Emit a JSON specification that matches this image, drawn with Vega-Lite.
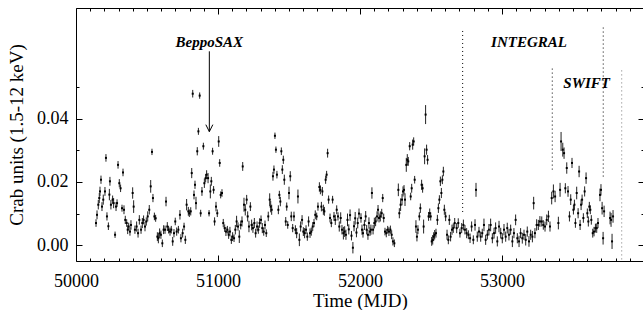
{
"$schema":"https://vega.github.io/schema/vega-lite/v6.json",
"width":568,"height":253,
"autosize":{"type":"none"},
"padding":{"left":76,"top":8,"right":0,"bottom":49},
"background":"white",
"config":{"view":{"stroke":"black","strokeWidth":1},"axis":{"grid":false,"domain":false,"tickColor":"black","labelColor":"black","titleColor":"black","labelFont":"Liberation Serif","titleFont":"Liberation Serif","titleFontWeight":"normal"}},
"datasets":{
"lc":[
{"t":50141,"r":0.0070,"e":0.0012},{"t":50148,"r":0.0096,"e":0.0014},{"t":50157,"r":0.0128,"e":0.0015},{"t":50164,"r":0.0149,"e":0.0016},{"t":50169,"r":0.0170,"e":0.0015},{"t":50176,"r":0.0207,"e":0.0013},{"t":50183,"r":0.0122,"e":0.0014},{"t":50192,"r":0.0144,"e":0.0016},{"t":50204,"r":0.0170,"e":0.0014},{"t":50211,"r":0.0276,"e":0.0012},{"t":50218,"r":0.0091,"e":0.0013},{"t":50228,"r":0.0060,"e":0.0012},{"t":50235,"r":0.0160,"e":0.0018},{"t":50239,"r":0.0202,"e":0.0014},{"t":50246,"r":0.0128,"e":0.0015},{"t":50258,"r":0.0144,"e":0.0013},{"t":50265,"r":0.0133,"e":0.0016},{"t":50275,"r":0.0033,"e":0.0010},{"t":50282,"r":0.0122,"e":0.0014},{"t":50289,"r":0.0133,"e":0.0012},{"t":50296,"r":0.0254,"e":0.0012},{"t":50305,"r":0.0196,"e":0.0013},{"t":50314,"r":0.0180,"e":0.0012},{"t":50324,"r":0.0117,"e":0.0011},{"t":50331,"r":0.0230,"e":0.0012},{"t":50338,"r":0.0112,"e":0.0014},{"t":50347,"r":0.0080,"e":0.0013},{"t":50357,"r":0.0070,"e":0.0012},{"t":50364,"r":0.0049,"e":0.0014},{"t":50371,"r":0.0059,"e":0.0012},{"t":50380,"r":0.0043,"e":0.0013},{"t":50387,"r":0.0064,"e":0.0015},{"t":50399,"r":0.0165,"e":0.0018},{"t":50406,"r":0.0122,"e":0.0020},{"t":50415,"r":0.0049,"e":0.0013},{"t":50427,"r":0.0059,"e":0.0016},{"t":50437,"r":0.0038,"e":0.0014},{"t":50446,"r":0.0080,"e":0.0015},{"t":50458,"r":0.0049,"e":0.0013},{"t":50467,"r":0.0070,"e":0.0016},{"t":50476,"r":0.0080,"e":0.0014},{"t":50486,"r":0.0059,"e":0.0015},{"t":50495,"r":0.0075,"e":0.0013},{"t":50505,"r":0.0091,"e":0.0016},{"t":50516,"r":0.0112,"e":0.0015},{"t":50526,"r":0.0186,"e":0.0020},{"t":50535,"r":0.0295,"e":0.0010},{"t":50542,"r":0.0149,"e":0.0013},{"t":50552,"r":0.0091,"e":0.0012},{"t":50561,"r":0.0085,"e":0.0011},{"t":50573,"r":0.0027,"e":0.0014},{"t":50580,"r":0.0022,"e":0.0016},{"t":50589,"r":0.0038,"e":0.0015},{"t":50598,"r":0.0033,"e":0.0013},{"t":50608,"r":0.0006,"e":0.0012},{"t":50617,"r":0.0049,"e":0.0014},{"t":50627,"r":0.0049,"e":0.0013},{"t":50634,"r":0.0138,"e":0.0015},{"t":50643,"r":0.0059,"e":0.0014},{"t":50652,"r":0.0049,"e":0.0012},{"t":50662,"r":0.0043,"e":0.0013},{"t":50671,"r":0.0049,"e":0.0012},{"t":50681,"r":0.0012,"e":0.0014},{"t":50690,"r":0.0038,"e":0.0013},{"t":50699,"r":0.0075,"e":0.0012},
{"t":50709,"r":0.0043,"e":0.0013},{"t":50721,"r":0.0049,"e":0.0012},{"t":50732,"r":0.0096,"e":0.0015},{"t":50739,"r":0.0022,"e":0.0013},{"t":50751,"r":0.0038,"e":0.0014},{"t":50761,"r":0.0059,"e":0.0012},{"t":50770,"r":0.0017,"e":0.0013},{"t":50779,"r":0.0128,"e":0.0018},{"t":50791,"r":0.0107,"e":0.0014},{"t":50798,"r":0.0101,"e":0.0012},{"t":50808,"r":0.0107,"e":0.0013},{"t":50815,"r":0.0228,"e":0.0016},{"t":50822,"r":0.0479,"e":0.0012},{"t":50831,"r":0.0159,"e":0.0014},{"t":50838,"r":0.0191,"e":0.0013},{"t":50845,"r":0.0133,"e":0.0020},{"t":50854,"r":0.0297,"e":0.0013},{"t":50862,"r":0.0360,"e":0.0011},{"t":50871,"r":0.0473,"e":0.0010},{"t":50878,"r":0.0101,"e":0.0011},{"t":50887,"r":0.0170,"e":0.0014},{"t":50897,"r":0.0313,"e":0.0011},{"t":50904,"r":0.0196,"e":0.0015},{"t":50913,"r":0.0212,"e":0.0013},{"t":50920,"r":0.0223,"e":0.0014},{"t":50930,"r":0.0212,"e":0.0016},{"t":50937,"r":0.0101,"e":0.0010},{"t":50946,"r":0.0170,"e":0.0022},{"t":50953,"r":0.0202,"e":0.0014},{"t":50962,"r":0.0297,"e":0.0011},{"t":50969,"r":0.0175,"e":0.0012},{"t":50976,"r":0.0075,"e":0.0013},{"t":50986,"r":0.0122,"e":0.0015},{"t":50995,"r":0.0101,"e":0.0012},{"t":51005,"r":0.0328,"e":0.0017},{"t":51012,"r":0.0260,"e":0.0012},{"t":51019,"r":0.0159,"e":0.0011},{"t":51028,"r":0.0165,"e":0.0012},{"t":51037,"r":0.0070,"e":0.0013},{"t":51047,"r":0.0054,"e":0.0012},{"t":51056,"r":0.0043,"e":0.0014},{"t":51066,"r":0.0049,"e":0.0012},{"t":51075,"r":0.0033,"e":0.0013},{"t":51084,"r":0.0043,"e":0.0015},{"t":51094,"r":0.0017,"e":0.0013},{"t":51103,"r":0.0027,"e":0.0014},{"t":51113,"r":0.0022,"e":0.0012},{"t":51122,"r":0.0049,"e":0.0015},{"t":51131,"r":0.0075,"e":0.0018},{"t":51141,"r":0.0059,"e":0.0013},{"t":51150,"r":0.0027,"e":0.0020},{"t":51160,"r":0.0064,"e":0.0014},{"t":51169,"r":0.0075,"e":0.0016},{"t":51174,"r":0.0249,"e":0.0014},{"t":51183,"r":0.0128,"e":0.0022},{"t":51192,"r":0.0112,"e":0.0018},{"t":51202,"r":0.0144,"e":0.0015},{"t":51209,"r":0.0091,"e":0.0016},{"t":51218,"r":0.0059,"e":0.0018},{"t":51228,"r":0.0122,"e":0.0014},{"t":51237,"r":0.0064,"e":0.0017},{"t":51246,"r":0.0054,"e":0.0015},{"t":51256,"r":0.0070,"e":0.0016},{"t":51265,"r":0.0038,"e":0.0014},{"t":51275,"r":0.0059,"e":0.0016},{"t":51284,"r":0.0049,"e":0.0013},{"t":51293,"r":0.0070,"e":0.0015},{"t":51303,"r":0.0080,"e":0.0014},{"t":51312,"r":0.0054,"e":0.0016},{"t":51322,"r":0.0043,"e":0.0013},{"t":51331,"r":0.0064,"e":0.0014},{"t":51340,"r":0.0038,"e":0.0012},
{"t":51354,"r":0.0091,"e":0.0015},{"t":51364,"r":0.0144,"e":0.0020},{"t":51371,"r":0.0122,"e":0.0018},{"t":51378,"r":0.0112,"e":0.0016},{"t":51387,"r":0.0218,"e":0.0014},{"t":51394,"r":0.0239,"e":0.0013},{"t":51401,"r":0.0346,"e":0.0010},{"t":51408,"r":0.0302,"e":0.0010},{"t":51415,"r":0.0223,"e":0.0012},{"t":51425,"r":0.0112,"e":0.0014},{"t":51432,"r":0.0159,"e":0.0013},{"t":51439,"r":0.0138,"e":0.0015},{"t":51446,"r":0.0297,"e":0.0012},{"t":51453,"r":0.0239,"e":0.0014},{"t":51460,"r":0.0270,"e":0.0013},{"t":51467,"r":0.0207,"e":0.0016},{"t":51477,"r":0.0075,"e":0.0014},{"t":51484,"r":0.0122,"e":0.0013},{"t":51491,"r":0.0064,"e":0.0012},{"t":51500,"r":0.0165,"e":0.0020},{"t":51509,"r":0.0218,"e":0.0016},{"t":51516,"r":0.0091,"e":0.0015},{"t":51526,"r":0.0054,"e":0.0013},{"t":51535,"r":0.0091,"e":0.0015},{"t":51545,"r":0.0049,"e":0.0014},{"t":51554,"r":0.0038,"e":0.0016},{"t":51563,"r":0.0154,"e":0.0022},{"t":51573,"r":0.0017,"e":0.0020},{"t":51582,"r":0.0059,"e":0.0016},{"t":51592,"r":0.0080,"e":0.0015},{"t":51601,"r":0.0043,"e":0.0014},{"t":51610,"r":0.0038,"e":0.0016},{"t":51620,"r":0.0049,"e":0.0014},{"t":51629,"r":0.0027,"e":0.0013},{"t":51638,"r":0.0075,"e":0.0016},{"t":51648,"r":0.0038,"e":0.0015},{"t":51657,"r":0.0043,"e":0.0013},{"t":51667,"r":0.0059,"e":0.0014},{"t":51676,"r":0.0070,"e":0.0013},{"t":51685,"r":0.0096,"e":0.0014},{"t":51695,"r":0.0091,"e":0.0012},{"t":51704,"r":0.0122,"e":0.0013},{"t":51714,"r":0.0184,"e":0.0015},{"t":51721,"r":0.0175,"e":0.0014},{"t":51728,"r":0.0122,"e":0.0015},{"t":51735,"r":0.0170,"e":0.0014},{"t":51742,"r":0.0112,"e":0.0016},{"t":51749,"r":0.0107,"e":0.0014},{"t":51758,"r":0.0207,"e":0.0013},{"t":51765,"r":0.0223,"e":0.0012},{"t":51772,"r":0.0291,"e":0.0014},{"t":51779,"r":0.0144,"e":0.0013},{"t":51789,"r":0.0086,"e":0.0014},{"t":51798,"r":0.0070,"e":0.0013},{"t":51807,"r":0.0144,"e":0.0012},{"t":51817,"r":0.0091,"e":0.0014},{"t":51826,"r":0.0080,"e":0.0016},{"t":51836,"r":0.0112,"e":0.0014},{"t":51845,"r":0.0091,"e":0.0013},{"t":51854,"r":0.0059,"e":0.0016},{"t":51864,"r":0.0086,"e":0.0018},{"t":51873,"r":0.0049,"e":0.0015},{"t":51883,"r":0.0038,"e":0.0020},{"t":51892,"r":0.0043,"e":0.0017},{"t":51901,"r":0.0033,"e":0.0016},
{"t":51912,"r":0.0080,"e":0.0020},{"t":51921,"r":0.0050,"e":0.0016},{"t":51930,"r":0.0095,"e":0.0018},{"t":51940,"r":0.0030,"e":0.0015},{"t":51950,"r":-0.0008,"e":0.0018},{"t":51958,"r":0.0060,"e":0.0016},{"t":51966,"r":0.0085,"e":0.0020},{"t":51975,"r":0.0040,"e":0.0015},{"t":51984,"r":0.0070,"e":0.0017},{"t":51993,"r":0.0100,"e":0.0016},
{"t":52007,"r":0.0086,"e":0.0015},{"t":52014,"r":0.0049,"e":0.0016},{"t":52021,"r":0.0038,"e":0.0014},{"t":52031,"r":0.0064,"e":0.0016},{"t":52040,"r":0.0091,"e":0.0017},{"t":52047,"r":0.0049,"e":0.0015},{"t":52056,"r":0.0033,"e":0.0016},{"t":52063,"r":0.0070,"e":0.0018},{"t":52070,"r":0.0043,"e":0.0014},{"t":52077,"r":0.0049,"e":0.0016},{"t":52084,"r":0.0165,"e":0.0018},{"t":52092,"r":0.0049,"e":0.0015},{"t":52101,"r":0.0070,"e":0.0017},{"t":52110,"r":0.0075,"e":0.0015},{"t":52120,"r":0.0091,"e":0.0016},{"t":52127,"r":0.0112,"e":0.0015},{"t":52134,"r":0.0086,"e":0.0014},{"t":52143,"r":0.0091,"e":0.0016},{"t":52153,"r":0.0101,"e":0.0014},{"t":52160,"r":0.0149,"e":0.0013},{"t":52167,"r":0.0086,"e":0.0014},{"t":52176,"r":0.0043,"e":0.0012},{"t":52185,"r":0.0038,"e":0.0013},{"t":52195,"r":0.0049,"e":0.0012},{"t":52204,"r":0.0043,"e":0.0014},{"t":52214,"r":0.0049,"e":0.0013},{"t":52223,"r":0.0033,"e":0.0014},{"t":52232,"r":0.0012,"e":0.0013},{"t":52242,"r":0.0006,"e":0.0012},{"t":52270,"r":0.0175,"e":0.0020},{"t":52277,"r":0.0101,"e":0.0016},{"t":52286,"r":0.0128,"e":0.0020},{"t":52296,"r":0.0144,"e":0.0018},{"t":52303,"r":0.0170,"e":0.0016},{"t":52310,"r":0.0175,"e":0.0015},{"t":52317,"r":0.0144,"e":0.0020},{"t":52326,"r":0.0254,"e":0.0022},{"t":52333,"r":0.0270,"e":0.0018},{"t":52340,"r":0.0265,"e":0.0014},{"t":52350,"r":0.0313,"e":0.0013},{"t":52357,"r":0.0154,"e":0.0012},{"t":52364,"r":0.0180,"e":0.0014},{"t":52371,"r":0.0318,"e":0.0016},{"t":52378,"r":0.0328,"e":0.0013},{"t":52385,"r":0.0207,"e":0.0012},{"t":52394,"r":0.0059,"e":0.0020},{"t":52401,"r":0.0027,"e":0.0015},{"t":52408,"r":0.0049,"e":0.0014},{"t":52418,"r":0.0091,"e":0.0013},{"t":52425,"r":0.0117,"e":0.0015},{"t":52434,"r":0.0191,"e":0.0016},{"t":52441,"r":0.0180,"e":0.0014},{"t":52448,"r":0.0059,"e":0.0022},{"t":52455,"r":0.0281,"e":0.0025},{"t":52462,"r":0.0413,"e":0.0030},{"t":52469,"r":0.0302,"e":0.0016},{"t":52476,"r":0.0270,"e":0.0015},{"t":52483,"r":0.0091,"e":0.0014},{"t":52491,"r":0.0101,"e":0.0015},{"t":52498,"r":0.0091,"e":0.0013},{"t":52505,"r":0.0012,"e":0.0014},{"t":52512,"r":0.0017,"e":0.0015},{"t":52519,"r":0.0027,"e":0.0014},{"t":52526,"r":0.0033,"e":0.0015},{"t":52535,"r":0.0038,"e":0.0014},{"t":52545,"r":0.0080,"e":0.0016},{"t":52552,"r":0.0117,"e":0.0015},{"t":52559,"r":0.0144,"e":0.0014},{"t":52566,"r":0.0202,"e":0.0015},{"t":52573,"r":0.0165,"e":0.0016},{"t":52580,"r":0.0207,"e":0.0014},{"t":52587,"r":0.0233,"e":0.0015},{"t":52594,"r":0.0112,"e":0.0016},{"t":52603,"r":0.0091,"e":0.0015},{"t":52613,"r":0.0033,"e":0.0016},{"t":52622,"r":0.0017,"e":0.0014},{"t":52629,"r":0.0080,"e":0.0016},{"t":52638,"r":0.0027,"e":0.0015},{"t":52648,"r":0.0049,"e":0.0016},{"t":52657,"r":0.0054,"e":0.0015},{"t":52667,"r":0.0070,"e":0.0016},
{"t":52681,"r":0.0054,"e":0.0016},{"t":52692,"r":0.0070,"e":0.0015},{"t":52704,"r":0.0038,"e":0.0014},{"t":52716,"r":0.0054,"e":0.0016},{"t":52728,"r":0.0064,"e":0.0017},{"t":52739,"r":0.0049,"e":0.0015},{"t":52751,"r":0.0038,"e":0.0016},{"t":52763,"r":0.0033,"e":0.0014},{"t":52775,"r":0.0022,"e":0.0015},{"t":52786,"r":0.0059,"e":0.0016},{"t":52798,"r":0.0017,"e":0.0014},{"t":52810,"r":0.0064,"e":0.0018},{"t":52817,"r":0.0175,"e":0.0022},{"t":52826,"r":0.0027,"e":0.0016},{"t":52838,"r":0.0043,"e":0.0015},{"t":52850,"r":0.0027,"e":0.0016},{"t":52861,"r":0.0038,"e":0.0014},{"t":52873,"r":0.0064,"e":0.0020},{"t":52885,"r":0.0017,"e":0.0016},{"t":52897,"r":0.0033,"e":0.0015},{"t":52908,"r":0.0049,"e":0.0018},{"t":52920,"r":0.0064,"e":0.0020},{"t":52932,"r":0.0022,"e":0.0016},{"t":52944,"r":0.0038,"e":0.0017},{"t":52955,"r":0.0054,"e":0.0018},{"t":52967,"r":0.0012,"e":0.0016},{"t":52979,"r":0.0059,"e":0.0018},{"t":52991,"r":0.0038,"e":0.0017},{"t":53002,"r":0.0022,"e":0.0016},{"t":53014,"r":0.0049,"e":0.0018},{"t":53026,"r":0.0027,"e":0.0016},{"t":53037,"r":0.0054,"e":0.0017},{"t":53049,"r":0.0033,"e":0.0018},{"t":53061,"r":0.0049,"e":0.0016},{"t":53073,"r":0.0012,"e":0.0018},{"t":53084,"r":0.0038,"e":0.0016},{"t":53096,"r":0.0080,"e":0.0017},{"t":53108,"r":0.0022,"e":0.0016},{"t":53120,"r":0.0012,"e":0.0018},{"t":53131,"r":0.0038,"e":0.0016},{"t":53143,"r":0.0022,"e":0.0017},{"t":53155,"r":0.0033,"e":0.0016},{"t":53167,"r":0.0017,"e":0.0018},{"t":53178,"r":0.0043,"e":0.0016},{"t":53190,"r":0.0012,"e":0.0017},{"t":53202,"r":0.0033,"e":0.0016},{"t":53214,"r":0.0027,"e":0.0018},{"t":53223,"r":0.0133,"e":0.0020},{"t":53232,"r":0.0038,"e":0.0016},{"t":53244,"r":0.0064,"e":0.0018},{"t":53256,"r":0.0064,"e":0.0016},{"t":53267,"r":0.0075,"e":0.0017},
{"t":53280,"r":0.0075,"e":0.0016},{"t":53291,"r":0.0064,"e":0.0015},{"t":53303,"r":0.0059,"e":0.0016},{"t":53315,"r":0.0080,"e":0.0017},{"t":53327,"r":0.0091,"e":0.0018},{"t":53338,"r":0.0059,"e":0.0016},{"t":53350,"r":0.0149,"e":0.0020},{"t":53362,"r":0.0170,"e":0.0022},{"t":53374,"r":0.0154,"e":0.0018},{"t":53397,"r":0.0070,"e":0.0020},{"t":53409,"r":0.0175,"e":0.0022},{"t":53416,"r":0.0328,"e":0.0030},{"t":53428,"r":0.0302,"e":0.0022},{"t":53437,"r":0.0291,"e":0.0018},{"t":53446,"r":0.0180,"e":0.0016},{"t":53456,"r":0.0244,"e":0.0018},{"t":53465,"r":0.0170,"e":0.0017},{"t":53475,"r":0.0091,"e":0.0016},{"t":53484,"r":0.0144,"e":0.0017},{"t":53493,"r":0.0260,"e":0.0016},{"t":53503,"r":0.0112,"e":0.0015},{"t":53510,"r":0.0128,"e":0.0016},{"t":53517,"r":0.0070,"e":0.0015},{"t":53526,"r":0.0165,"e":0.0020},{"t":53536,"r":0.0101,"e":0.0016},{"t":53543,"r":0.0233,"e":0.0018},{"t":53550,"r":0.0064,"e":0.0016},{"t":53557,"r":0.0128,"e":0.0017},{"t":53564,"r":0.0144,"e":0.0016},{"t":53573,"r":0.0086,"e":0.0015},{"t":53582,"r":0.0170,"e":0.0016},{"t":53592,"r":0.0212,"e":0.0018},{"t":53601,"r":0.0101,"e":0.0015},{"t":53608,"r":0.0075,"e":0.0016},{"t":53615,"r":0.0122,"e":0.0015},{"t":53622,"r":0.0112,"e":0.0014},{"t":53629,"r":0.0080,"e":0.0015},{"t":53639,"r":0.0038,"e":0.0014},{"t":53648,"r":0.0043,"e":0.0015},{"t":53658,"r":0.0054,"e":0.0014},{"t":53667,"r":0.0054,"e":0.0015},{"t":53676,"r":0.0070,"e":0.0016},{"t":53690,"r":0.0159,"e":0.0020},{"t":53697,"r":0.0175,"e":0.0018},{"t":53705,"r":0.0117,"e":0.0020},{"t":53712,"r":0.0022,"e":0.0020},{"t":53719,"r":0.0107,"e":0.0018},{"t":53761,"r":0.0086,"e":0.0020},{"t":53768,"r":0.0080,"e":0.0022},{"t":53775,"r":0.0012,"e":0.0024},{"t":53782,"r":0.0091,"e":0.0020}
],
"vlines":[
{"t":52723,"lo":0.0105,"hi":0.0686,"k":"a"},{"t":53354,"lo":0.0239,"hi":0.0562,"k":"a"},{"t":53713,"lo":0.0217,"hi":0.0690,"k":"a"},{"t":53843,"lo":-0.0045,"hi":0.0562,"k":"b"}
],
"labels":[
{"t":50939,"y":0.0641,"label":"BeppoSAX"},{"t":53190,"y":0.0644,"label":"INTEGRAL"},{"t":53596,"y":0.0514,"label":"SWIFT"}
],
"arrow":[{"t":50939,"top":0.0613,"tip":0.0359}]
},
"resolve":{"axis":{"x":"independent","y":"independent"}},
"layer":[
{"data":{"name":"lc"},
 "mark":{"type":"errorbar","color":"#222","thickness":1},
 "encoding":{
  "x":{"field":"t","type":"quantitative","scale":{"domain":[50000,54000],"nice":false,"zero":false},
       "axis":{"orient":"bottom","values":[50000,51000,52000,53000],"format":"d","ticks":false,"labelFontSize":18,"labelPadding":11,"title":"Time (MJD)","titleFontSize":19,"titlePadding":1,"labelFlush":false}},
  "y":{"field":"r","type":"quantitative","scale":{"domain":[-0.005,0.075],"nice":false,"zero":false},
       "axis":{"orient":"left","values":[0,0.02,0.04],"format":".2f","ticks":false,"labelFontSize":18,"labelPadding":8,"title":"Crab units (1.5-12 keV)","titleFontSize":19,"titlePadding":10}},
  "yError":{"field":"e"}
 }},
{"data":{"name":"lc"},
 "mark":{"type":"point","shape":"square","filled":true,"size":4,"color":"black","opacity":1},
 "encoding":{
  "x":{"field":"t","type":"quantitative","axis":{"orient":"bottom","values":[50000,51000,52000,53000],"labels":false,"tickSize":6,"offset":-6,"title":null}},
  "y":{"field":"r","type":"quantitative","axis":{"orient":"left","values":[0,0.02,0.04],"labels":false,"tickSize":6,"offset":-6,"title":null}}
 }},
{"data":{"name":"vlines"},
 "mark":{"type":"rule","strokeDash":[1,3],"strokeWidth":1},
 "encoding":{
  "x":{"field":"t","type":"quantitative","axis":{"orient":"top","values":[50000,51000,52000,53000],"labels":false,"tickSize":6,"offset":-6,"title":null}},
  "y":{"field":"lo","type":"quantitative","axis":{"orient":"right","values":[0,0.02,0.04],"labels":false,"tickSize":6,"offset":-6,"title":null}},
  "y2":{"field":"hi"},
  "color":{"field":"k","type":"nominal","scale":{"domain":["a","b"],"range":["black","#777"]},"legend":null}
 }},
{"data":{"name":"labels"},
 "mark":{"type":"text","font":"Liberation Serif","fontSize":15,"fontStyle":"italic","fontWeight":"bold","color":"black","baseline":"middle","align":"center"},
 "encoding":{
  "x":{"field":"t","type":"quantitative","axis":{"orient":"bottom","values":[50100,50200,50300,50400,50500,50600,50700,50800,50900,51100,51200,51300,51400,51500,51600,51700,51800,51900,52100,52200,52300,52400,52500,52600,52700,52800,52900,53100,53200,53300,53400,53500,53600,53700,53800,53900],"labels":false,"tickSize":3,"offset":-3,"title":null}},
  "y":{"field":"y","type":"quantitative","axis":{"orient":"left","values":[0.01,0.03,0.05],"labels":false,"tickSize":3,"offset":-3,"title":null}},
  "text":{"field":"label"}
 }},
{"data":{"name":"arrow"},
 "mark":{"type":"rule","color":"black","strokeWidth":1},
 "encoding":{
  "x":{"field":"t","type":"quantitative","axis":{"orient":"top","values":[50100,50200,50300,50400,50500,50600,50700,50800,50900,51100,51200,51300,51400,51500,51600,51700,51800,51900,52100,52200,52300,52400,52500,52600,52700,52800,52900,53100,53200,53300,53400,53500,53600,53700,53800,53900],"labels":false,"tickSize":3,"offset":-3,"title":null}},
  "y":{"field":"top","type":"quantitative","axis":{"orient":"right","values":[0.01,0.03,0.05],"labels":false,"tickSize":3,"offset":-3,"title":null}},
  "y2":{"field":"tip"}
 }},
{"data":{"name":"arrow"},
 "mark":{"type":"point","shape":"M-0.5,-1L0,0L0.5,-1","filled":false,"size":196,"color":"black","strokeWidth":1,"opacity":1},
 "encoding":{
  "x":{"field":"t","type":"quantitative","axis":null},
  "y":{"field":"tip","type":"quantitative","axis":null}
 }}
]
}
